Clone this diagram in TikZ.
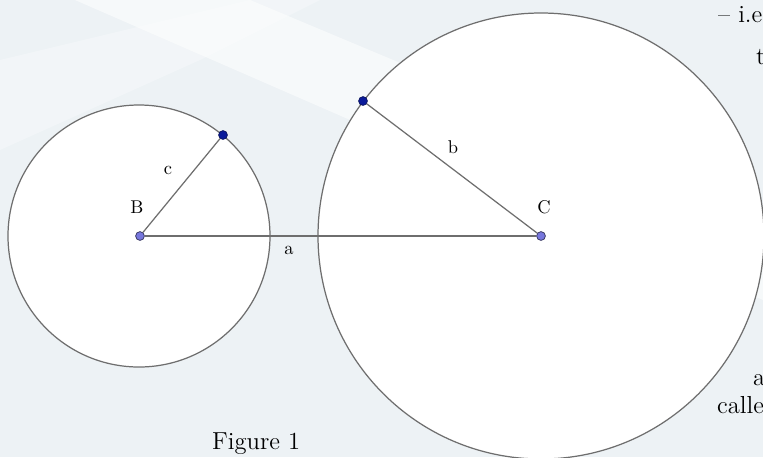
\documentclass[tikz,border=0pt]{standalone}
\usepackage{xcolor}
\usetikzlibrary{calc}
\usetikzlibrary{positioning}

\definecolor{bgcol}{HTML}{EDF2F5}
\definecolor{linecol}{HTML}{6E6E6E}
\definecolor{ptcol}{HTML}{7777DD}
\definecolor{ptdark}{HTML}{0A1A9A}

\tikzset{
	seg/.style={draw=linecol, line width=0.7pt},
	disc/.style={draw=linecol, fill=white, line width=0.7pt},
	centre/.style={circle, draw=ptcol!40!black, fill=ptcol, inner sep=0pt, minimum size=5pt},
	onpt/.style={circle, draw=ptdark!60!black, fill=ptdark, inner sep=0pt, minimum size=5pt},
	lbl/.style={font=\fontsize{10.5}{12}\selectfont},
	page/.style={font=\fontsize{14}{16}\selectfont, anchor=base west}
}

\begin{document}
\begin{tikzpicture}[x=0.02cm, y=0.02cm]
			\useasboundingbox (0,0) rectangle (763,-457);
			\clip (0,0) rectangle (763,-457);
			
			% Background
			\fill[bgcol] (0,0) rectangle (763,-457);
			\fill[white, opacity=0.55] (75,0) -- (250,0) -- (763,-215) -- (763,-300) -- cycle;
			\fill[white, opacity=0.3] (0,-60) -- (0,-150) -- (200,-60) -- (320,0) -- (250,0) -- cycle;
			
			% Circles
			\draw[disc] (541,-236) circle (223);
			\draw[disc] (139,-236) circle (131);
			
			% Points
			\node[centre] (B) at (140,-236) {};
			\node[centre] (C) at (541,-236) {};
			\node[onpt] (P) at (223,-135) {};
			\node[onpt] (Q) at (363,-101) {};
			
			% Segments
			\draw[seg] (B) -- (C);
			\draw[seg] (B) -- (P);
			\draw[seg] (C) -- (Q);
			
			% Labels
			\node[lbl] (lB) at (137,-207) {B};
			\node[lbl] (lC) at (544,-207) {C};
			\node[lbl] (la) at (289,-250) {a};
			\node[lbl] (lb) at (453,-147) {b};
			\node[lbl] (lc) at (168,-170) {c};
			
			% Page text
			\node[page] (t1) at (712,-22) {-- i.e};
			\node[page] (t2) at (750,-64) {t};
			\node[page] (t3) at (747,-385) {a};
			\node[page] (t4) at (711,-413) {calle};
			\node[page] (fig) at (206,-449) {Figure 1};
		\end{tikzpicture}
\end{document}
